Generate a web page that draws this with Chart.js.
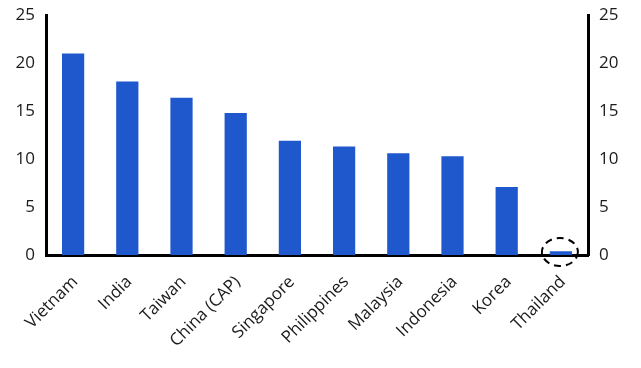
<!DOCTYPE html>
<html>
<head>
<meta charset="utf-8">
<script src="https://cdn.jsdelivr.net/npm/chart.js@4"></script>
<style>
  html, body { margin: 0; padding: 0; background: #fff; }
  #wrap { width: 641px; height: 368px; }
</style>
</head>
<body>
<div id="wrap"><canvas id="c" width="641" height="368"></canvas></div>
<script>
// カテゴリと値
const countries = ['Vietnam', 'India', 'Taiwan', 'China (CAP)', 'Singapore', 'Philippines', 'Malaysia', 'Indonesia', 'Korea', 'Thailand'];
const values = [21.0, 18.1, 16.4, 14.8, 11.9, 11.3, 10.6, 10.3, 7.1, 0.4];
const yTicks = [0, 5, 10, 15, 20, 25];
const circled = 'Thailand';

const BLUE = '#1f58cc';

// 丸で囲むプラグイン
const circlePlugin = {
  id: 'circle',
  afterDatasetsDraw(chart) {
    const { ctx, scales: { x, y } } = chart;
    const i = countries.indexOf(circled);
    const cx = x.getPixelForValue(i) - 1;
    const cy = y.getPixelForValue(0) - 3;
    ctx.save();
    ctx.beginPath();
    ctx.setLineDash([7, 5]);
    ctx.lineWidth = 2;
    ctx.strokeStyle = '#000';
    ctx.ellipse(cx, cy, 18, 14, 0, 0, Math.PI * 2);
    ctx.stroke();
    ctx.restore();
  }
};

const fam = '"Open Sans", "Noto Sans", sans-serif';
const yAxis = (pos, w) => ({
  position: pos, min: 0, max: 25,
  afterBuildTicks: s => { s.ticks = yTicks.map(v => ({ value: v })); },
  afterFit: s => { s.width = w; },
  grid: { display: false, drawTicks: true, tickLength: 6, tickWidth: 3, tickColor: '#000' },
  border: { display: true, color: '#000', width: 3 },
  ticks: { color: '#1a1a1a', font: { family: fam, size: 17 }, padding: 5 },
});

new Chart(document.getElementById('c'), {
  type: 'bar',
  data: { labels: countries, datasets: [{ data: values, backgroundColor: BLUE, categoryPercentage: 1, barPercentage: 0.41 }] },
  options: {
    responsive: false, animation: false,
    layout: { padding: { top: 6, bottom: 10 } },
    plugins: { legend: { display: false }, tooltip: { enabled: false } },
    scales: {
      x: {
        grid: { display: false, drawTicks: false },
        border: { display: true, color: '#000', width: 3 },
        ticks: { color: '#1a1a1a', font: { family: fam, size: 17 }, minRotation: 45, maxRotation: 45, padding: 17, labelOffset: 2 },
        afterFit: s => { s.height = 103; },
      },
      y: yAxis('left', 46),
      y2: yAxis('right', 53),
    },
  },
  plugins: [circlePlugin],
});
</script>
</body>
</html>
